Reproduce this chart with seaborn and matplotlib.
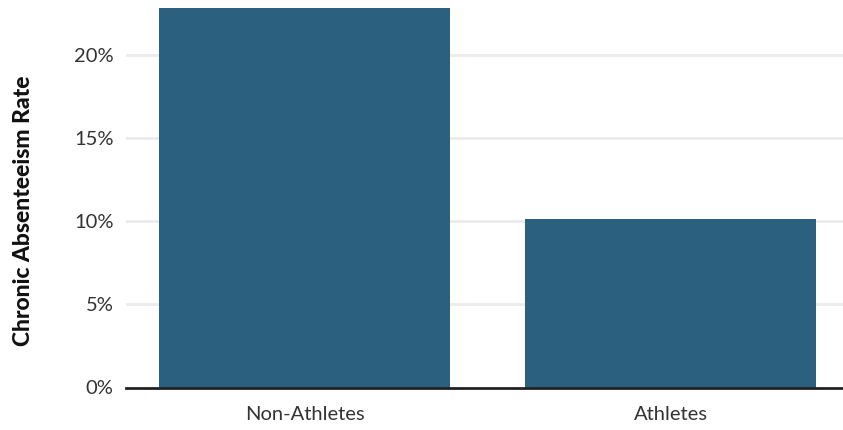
import matplotlib
matplotlib.use("Agg")
import matplotlib.pyplot as plt
import seaborn as sns
import pandas as pd
from matplotlib.ticker import FuncFormatter

groups = ["Non-Athletes", "Athletes"]
rates = [22.8, 10.1]
yticks = [0, 5, 10, 15, 20]

sns.set_theme(style="white")
plt.rcParams["font.family"] = ["Lato", "DejaVu Sans"]

df = pd.DataFrame({"group": groups, "rate": rates})

W, H = 843, 430
fig = plt.figure(figsize=(W / 100, H / 100), dpi=100)
ax = fig.add_axes([126 / W, (H - 387.5) / H, (W - 126) / W, (387.5 - 8) / H])

ax.set_axisbelow(True)
for t in yticks[1:]:
    ax.axhline(t, color="#ebebeb", lw=2, zorder=0)

sns.barplot(data=df, x="group", y="rate", color="#2b607e", saturation=1,
            width=0.795, linewidth=0, ax=ax, zorder=2)

ax.set_xlim(-0.488, 1.471)
ax.set_ylim(0, 22.8)
ax.set_yticks(yticks)
ax.yaxis.set_major_formatter(FuncFormatter(lambda v, _: f"{v:.0f}%"))
ax.tick_params(axis="y", length=0, pad=9, labelsize=14.5, labelcolor="#333333")
ax.tick_params(axis="x", length=0, pad=13, labelsize=14.5, labelcolor="#333333")

for side in ["top", "right", "left"]:
    ax.spines[side].set_visible(False)
ax.spines["bottom"].set_color("#222222")
ax.spines["bottom"].set_linewidth(2)
ax.spines["bottom"].set_zorder(3)

ax.set_xlabel("")
ax.set_ylabel("")
fig.text(24 / W, 1 - 211 / H, "Chronic Absenteeism Rate", rotation=90,
         ha="center", va="center", fontsize=16.5, fontweight=900, color="#111111")

fig.savefig("out.png", dpi=100)
